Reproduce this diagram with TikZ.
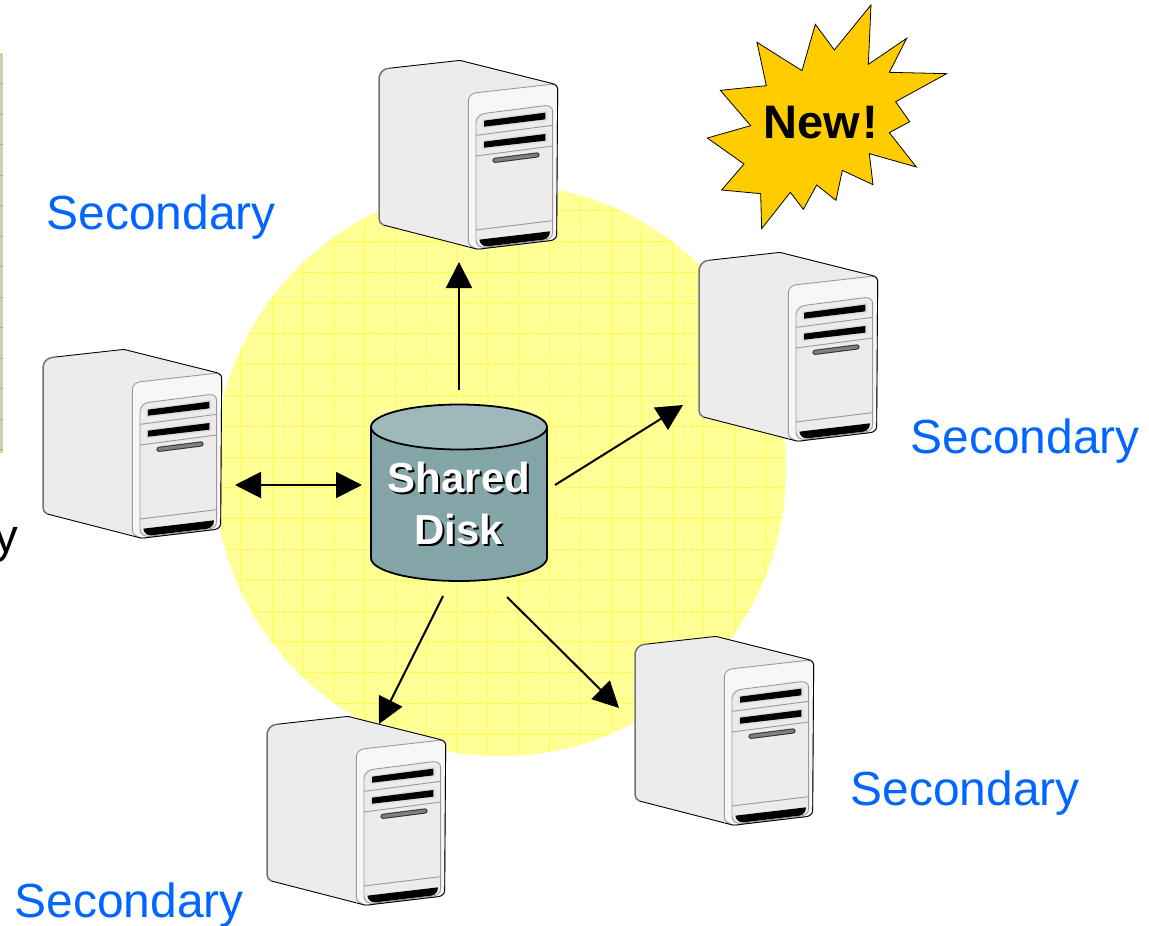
\documentclass[tikz,border=0pt]{standalone}
\usepackage{fontspec}
\setmainfont{Liberation Sans}
\usetikzlibrary{arrows.meta}
\definecolor{secblue}{HTML}{0066FF}
\definecolor{halo}{HTML}{FFFF9C}
\definecolor{halofine}{HTML}{FFFF86}
\definecolor{haloline}{HTML}{FFFF4D}
\definecolor{stripfill}{HTML}{C9D3AC}
\definecolor{stripline}{HTML}{A3B07F}
\definecolor{diskbody}{HTML}{84A5A8}
\definecolor{disktop}{HTML}{9FB8BB}
\definecolor{starfill}{HTML}{FFCC00}
\definecolor{srvside}{HTML}{ECECEC}
\definecolor{srvfront}{HTML}{F7F7F7}
\definecolor{srvedge}{HTML}{9A9A9A}
\tikzset{
  seclabel/.style={anchor=base west,inner sep=0pt,text=secblue,font=\fontsize{47.9}{50}\selectfont},
  flow/.style={line width=2pt,-{Triangle[length=26pt,width=26pt]}},
  flowboth/.style={line width=2pt,{Triangle[length=26pt,width=26pt]}-{Triangle[length=26pt,width=26pt]}},
  disktext/.style={align=center,inner sep=0pt,font=\fontsize{42}{52}\selectfont\bfseries},
  serverpic/.pic={
    \begin{scope}[x=0.33333pt,y=-0.33333pt]
      % case
      \fill[srvside] (27,85) .. controls (28,68) and (40,57) .. (55,55) -- (262,32)
        .. controls (270,31) and (278,32) .. (285,35) -- (545,100)
        .. controls (556,103) and (563,108) .. (563,118) -- (560,555)
        .. controls (559,565) and (550,571) .. (540,572) -- (345,595)
        .. controls (335,597) and (328,598) .. (320,597) -- (40,525)
        .. controls (32,522) and (27,515) .. (27,505) -- cycle;
      % front face
      \fill[srvfront,draw=srvedge,line width=0.9pt] (295,150) .. controls (296,138) and (306,130) .. (320,128) -- (545,103)
        .. controls (556,103) and (563,108) .. (563,118) -- (560,555)
        .. controls (559,565) and (550,571) .. (540,572) -- (345,595)
        .. controls (335,597) and (328,598) .. (320,597) .. controls (305,592) and (295,585) .. (295,572) -- cycle;
      % inner panel
      \fill[srvside,draw=srvedge,line width=0.9pt] (318,218) .. controls (319,203) and (330,192) .. (345,190) -- (525,167)
        .. controls (538,166) and (548,172) .. (548,185) -- (548,545)
        .. controls (548,560) and (540,568) .. (525,570) -- (345,592)
        .. controls (330,593) and (318,585) .. (318,570) -- cycle;
      \draw[srvedge,line width=0.9pt] (318,256) -- (548,226) (318,318) -- (548,288) (318,540) -- (548,512);
      % slots
      \fill[srvedge!35] (337,209) -- (531,183) -- (531,212) -- (337,235) -- cycle;
      \fill[srvedge!35] (337,272) -- (531,247) -- (531,276) -- (337,298) -- cycle;
      \fill[black] (342,212) -- (526,188) -- (526,208) -- (342,230) -- cycle;
      \fill[black] (342,275) -- (526,252) -- (526,272) -- (342,293) -- cycle;
      % handle
      \draw[black!80,line width=5.2pt,line cap=round] (375,331) -- (501,315);
      \draw[gray,line width=3.2pt,line cap=round] (375,331) -- (501,315);
      % foot
      \fill[black] (328,569) -- (540,544) .. controls (540,557) and (532,567) .. (520,569) -- (352,589)
        .. controls (340,590) and (330,582) .. (328,569) -- cycle;
      % outline
      \draw[black,line width=0.9pt] (55,55) -- (262,32)
        .. controls (270,31) and (278,32) .. (285,35) -- (545,100)
        .. controls (556,103) and (563,108) .. (563,118) -- (560,555)
        .. controls (559,565) and (550,571) .. (540,572) -- (345,595)
        .. controls (335,597) and (328,598) .. (320,597) -- (40,525);
      \draw[black!55,line width=1.5pt] (40,525) .. controls (32,522) and (27,515) .. (27,505) -- (27,85)
        .. controls (28,68) and (40,57) .. (55,55);
    \end{scope}
  }
}
\begin{document}
\begin{tikzpicture}[x=1pt,y=-1pt]
\useasboundingbox (0,0) rectangle (1149,926);
% halo
\begin{scope}
  \clip (500,470) circle[radius=286];
  \fill[halo] (214,184) rectangle (786,756);
  \foreach \k in {-10,...,85}{
    \draw[halofine,line width=0.5pt] ({272+6.16*\k},184) -- ({272+6.16*\k},756);
    \draw[halofine,line width=0.5pt] (214,{272+6.16*\k}) -- (786,{272+6.16*\k});
  }
  \foreach \k in {-2,...,16}{
    \draw[haloline,line width=0.6pt] ({272+30.8*\k},184) -- ({272+30.8*\k},756);
    \draw[haloline,line width=0.6pt] (214,{272+30.8*\k}) -- (786,{272+30.8*\k});
  }
\end{scope}
% cut-off table strip
\fill[stripfill] (0,53) rectangle (3,453);
\foreach \k in {1,...,13}{
  \draw[stripline,line width=0.7pt] (0,{53+30.5*\k}) -- (3,{53+30.5*\k});
}
\node[anchor=base east,inner sep=0pt,font=\fontsize{47.5}{50}\selectfont] (primarytail) at (18.5,552) {y};
% servers
\pic at (370,50) {serverpic};
\pic at (34,339) {serverpic};
\pic at (690,242) {serverpic};
\pic at (626,626) {serverpic};
\pic at (258,706) {serverpic};
% disk
\fill[diskbody,draw=black,line width=1.8pt] (371,427) -- (371,558) arc[start angle=180,end angle=360,x radius=88,y radius=-23] -- (547,427) -- cycle;
\fill[disktop,draw=black,line width=1.8pt] (459,427) ellipse[x radius=88,y radius=22.5];
\node[disktext,text=black] (diskshadow) at (461,505) {Shared\\Disk};
\node[disktext,text=white] (disk) at (459,503) {Shared\\Disk};
% connector ends
\coordinate (diskN) at (459,390);
\coordinate (srvTop) at (459,262);
\coordinate (diskE) at (555,485);
\coordinate (srvRight) at (683,405);
\coordinate (diskSE) at (507,597);
\coordinate (srvLowerRight) at (619,708);
\coordinate (diskSW) at (443,596);
\coordinate (srvBottom) at (379,724);
\coordinate (srvLeft) at (235,485);
\coordinate (diskW) at (362,485);
\draw[flow] (diskN) -- (srvTop);
\draw[flow] (diskE) -- (srvRight);
\draw[flow] (diskSE) -- (srvLowerRight);
\draw[flow] (diskSW) -- (srvBottom);
\draw[flowboth] (srvLeft) -- (diskW);
% labels
\node[seclabel] (secA) at (46.5,229) {Secondary};
\node[seclabel] (secB) at (910.5,453) {Secondary};
\node[seclabel] (secC) at (850.5,805) {Secondary};
\node[seclabel] (secD) at (14.5,917) {Secondary};
% star
\begin{scope}[shift={(700,0)},x=0.33333pt,y=-0.33333pt]
  \fill[starfill,draw=black,line width=0.8pt] (513,15) -- (505,193) -- (620,115) -- (568,217) -- (740,221) -- (587,305) -- (629,365) -- (568,398) -- (649,501) -- (508,461) -- (519,554) -- (427,511) -- (408,601) -- (350,555) -- (310,628) -- (271,577) -- (185,686) -- (182,581) -- (65,570) -- (132,492) -- (22,414) -- (152,377) -- (61,271) -- (199,257) -- (171,127) -- (306,212) -- (346,73) -- (403,150) -- cycle;
\end{scope}
\node[anchor=base west,inner sep=0pt,font=\fontsize{47}{50}\selectfont\bfseries] (newtag) at (763,138) {New\kern3pt!};
\end{tikzpicture}
\end{document}
